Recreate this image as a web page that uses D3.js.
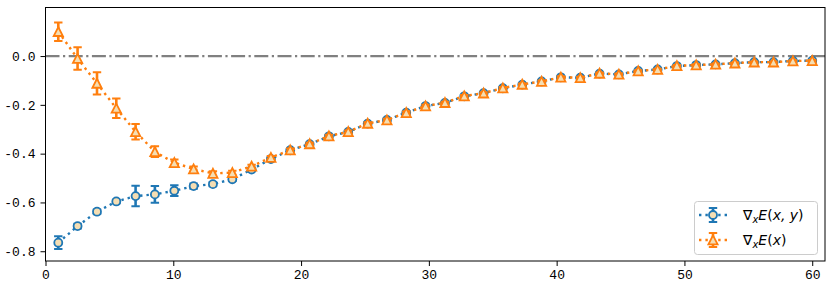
<!DOCTYPE html>
<html>
<head>
<meta charset="utf-8">
<script src="https://cdn.jsdelivr.net/npm/d3@7"></script>
<style>
  body { margin: 0; background: #fff; }
  svg { display: block; }
</style>
</head>
<body>
<div id="container"></div>
<script>
// x positions of the samples
const xs = [1.00, 2.51, 4.03, 5.54, 7.05, 8.56, 10.08, 11.59, 13.10, 14.62,
    16.13, 17.64, 19.15, 20.67, 22.18, 23.69, 25.21, 26.72, 28.23, 29.74,
    31.26, 32.77, 34.28, 35.79, 37.31, 38.82, 40.33, 41.85, 43.36, 44.87,
    46.38, 47.90, 49.41, 50.92, 52.44, 53.95, 55.46, 56.97, 58.49, 60.00];
// ∇xE(x,y)
const gradXY = [-0.765, -0.697, -0.638, -0.596, -0.574, -0.567, -0.552, -0.533, -0.525, -0.505,
    -0.465, -0.422, -0.386, -0.361, -0.329, -0.311, -0.277, -0.262, -0.232, -0.205,
    -0.192, -0.165, -0.152, -0.132, -0.117, -0.104, -0.087, -0.089, -0.072, -0.075,
    -0.061, -0.055, -0.041, -0.037, -0.034, -0.029, -0.025, -0.025, -0.020, -0.019];
const errXY = [0.026, 0.010, 0.009, 0.007, 0.042, 0.034, 0.022, 0.011, 0.009, 0.007,
    0.006, 0.006, 0.006, 0.005, 0.005, 0.005, 0.005, 0.005, 0.005, 0.005,
    0.004, 0.004, 0.004, 0.004, 0.004, 0.004, 0.004, 0.004, 0.004, 0.004,
    0.003, 0.003, 0.003, 0.003, 0.003, 0.003, 0.003, 0.003, 0.003, 0.003];
// ∇xE(x)
const gradX = [0.100, -0.010, -0.112, -0.214, -0.310, -0.392, -0.437, -0.463, -0.481, -0.478,
    -0.452, -0.416, -0.385, -0.360, -0.328, -0.310, -0.276, -0.262, -0.232, -0.205,
    -0.191, -0.164, -0.152, -0.131, -0.116, -0.104, -0.087, -0.089, -0.071, -0.075,
    -0.061, -0.055, -0.040, -0.037, -0.034, -0.029, -0.025, -0.025, -0.020, -0.019];
const errX = [0.038, 0.046, 0.046, 0.040, 0.032, 0.022, 0.013, 0.010, 0.009, 0.008,
    0.007, 0.006, 0.006, 0.005, 0.005, 0.005, 0.005, 0.005, 0.005, 0.005,
    0.004, 0.004, 0.004, 0.004, 0.004, 0.004, 0.004, 0.004, 0.004, 0.004,
    0.003, 0.003, 0.003, 0.003, 0.003, 0.003, 0.003, 0.003, 0.003, 0.003];
const xTicks = [0, 10, 20, 30, 40, 50, 60];
const yTicks = [-0.8, -0.6, -0.4, -0.2, 0.0];

const W = 831, H = 288;
const mLeft = 45.5, mRight = 825, mTop = 7.5, mBottom = 261;
const BLUE = "#1f77b4", ORANGE = "#ff7f0e", FACE = "#f5deb3";

const svg = d3.select("#container").append("svg")
    .attr("width", W).attr("height", H);

const x = d3.scaleLinear().domain([0, 61]).range([mLeft, mRight]);
const y = d3.scaleLinear().domain([-0.84, 0.199]).range([mBottom, mTop]);

svg.append("clipPath").attr("id", "clip")
    .append("rect").attr("x", mLeft).attr("y", mTop)
    .attr("width", mRight - mLeft).attr("height", mBottom - mTop);

const plot = svg.append("g").attr("clip-path", "url(#clip)");

// 0 参考线
plot.append("line")
    .attr("x1", mLeft).attr("x2", mRight)
    .attr("y1", y(0)).attr("y2", y(0))
    .attr("stroke", "#808080").attr("stroke-width", 2.2)
    .attr("stroke-dasharray", "14,3.5,2.2,3.5");

function triPath(s) {
    return `M0,${-s} L${-s},${s * 0.95} L${s},${s * 0.95} Z`;
}

function drawSeries(vals, errs, color, marker) {
    const pts = xs.map((d, i) => ({ x: d, y: vals[i], e: errs[i] }));
    const g = plot.append("g");
    g.append("path")
        .datum(pts)
        .attr("fill", "none")
        .attr("stroke", color)
        .attr("stroke-width", 2.4)
        .attr("stroke-dasharray", "2.4,4")
        .attr("d", d3.line().x(d => x(d.x)).y(d => y(d.y)));
    const eb = g.selectAll("g.eb").data(pts).enter().append("g");
    eb.append("line")
        .attr("x1", d => x(d.x)).attr("x2", d => x(d.x))
        .attr("y1", d => y(d.y - d.e)).attr("y2", d => y(d.y + d.e))
        .attr("stroke", color).attr("stroke-width", 2.6);
    [-1, 1].forEach(sgn => {
        eb.append("line")
            .attr("x1", d => x(d.x) - 4.2).attr("x2", d => x(d.x) + 4.2)
            .attr("y1", d => y(d.y + sgn * d.e)).attr("y2", d => y(d.y + sgn * d.e))
            .attr("stroke", color).attr("stroke-width", 2);
    });
    if (marker === "o") {
        g.selectAll("circle").data(pts).enter().append("circle")
            .attr("cx", d => x(d.x)).attr("cy", d => y(d.y)).attr("r", 4)
            .attr("fill", FACE).attr("stroke", color).attr("stroke-width", 1.8);
    } else {
        g.selectAll("path.m").data(pts).enter().append("path")
            .attr("class", "m")
            .attr("transform", d => `translate(${x(d.x)},${y(d.y)})`)
            .attr("d", triPath(4.6))
            .attr("fill", FACE).attr("stroke", color).attr("stroke-width", 1.8)
            .attr("stroke-linejoin", "miter");
    }
}

drawSeries(gradXY, errXY, BLUE, "o");
drawSeries(gradX, errX, ORANGE, "^");

// 坐标轴
const tickFont = "'Liberation Mono', 'DejaVu Sans Mono', monospace";
const xAxis = svg.append("g")
    .attr("transform", `translate(0,${mBottom})`)
    .call(d3.axisBottom(x).tickValues(xTicks).tickSize(5).tickPadding(4).tickFormat(d3.format("d")));
const yAxis = svg.append("g")
    .attr("transform", `translate(${mLeft},0)`)
    .call(d3.axisLeft(y).tickValues(yTicks).tickSize(5).tickPadding(5)
        .tickFormat(d => d3.format(".1f")(d).replace("−", "-")));
[xAxis, yAxis].forEach(a => {
    a.select(".domain").remove();
    a.selectAll(".tick line").attr("stroke", "#000").attr("stroke-width", 1);
    a.selectAll(".tick text")
        .attr("fill", "#000")
        .style("font-family", tickFont)
        .style("font-size", "13px");
});

svg.append("rect")
    .attr("x", mLeft).attr("y", mTop)
    .attr("width", mRight - mLeft).attr("height", mBottom - mTop)
    .attr("fill", "none").attr("stroke", "#000").attr("stroke-width", 1);

// 图例
const lg = svg.append("g");
lg.append("rect")
    .attr("x", 694.5).attr("y", 201.5).attr("width", 123).attr("height", 53)
    .attr("rx", 3)
    .attr("fill", "#fff").attr("fill-opacity", 0.8)
    .attr("stroke", "#cccccc").attr("stroke-width", 1);

const legendItems = [
    { color: BLUE, marker: "o", label: "x, y", cy: 215 },
    { color: ORANGE, marker: "^", label: "x", cy: 240 }
];
legendItems.forEach(it => {
    const cx = 713;
    lg.append("line")
        .attr("x1", 699).attr("x2", 728).attr("y1", it.cy).attr("y2", it.cy)
        .attr("stroke", it.color).attr("stroke-width", 2.4)
        .attr("stroke-dasharray", "2.4,4");
    lg.append("line")
        .attr("x1", cx).attr("x2", cx).attr("y1", it.cy - 7).attr("y2", it.cy + 7)
        .attr("stroke", it.color).attr("stroke-width", 2.6);
    [-7, 7].forEach(o => lg.append("line")
        .attr("x1", cx - 4.2).attr("x2", cx + 4.2).attr("y1", it.cy + o).attr("y2", it.cy + o)
        .attr("stroke", it.color).attr("stroke-width", 2));
    if (it.marker === "o") {
        lg.append("circle").attr("cx", cx).attr("cy", it.cy).attr("r", 4)
            .attr("fill", FACE).attr("stroke", it.color).attr("stroke-width", 1.8);
    } else {
        lg.append("path").attr("transform", `translate(${cx},${it.cy})`)
            .attr("d", triPath(4.6))
            .attr("fill", FACE).attr("stroke", it.color).attr("stroke-width", 1.8);
    }
    const t = lg.append("text")
        .attr("x", 743).attr("y", it.cy + 5)
        .style("font-family", "'DejaVu Sans'")
        .style("font-size", "14px")
        .attr("fill", "#000");
    t.append("tspan").text("∇");
    t.append("tspan").attr("font-style", "italic").attr("font-size", "10px").attr("dy", 3).text("x");
    t.append("tspan").attr("font-style", "italic").attr("dy", -3).text("E");
    t.append("tspan").text("(");
    t.append("tspan").attr("font-style", "italic").text(it.label);
    t.append("tspan").text(")");
});
</script>
</body>
</html>
